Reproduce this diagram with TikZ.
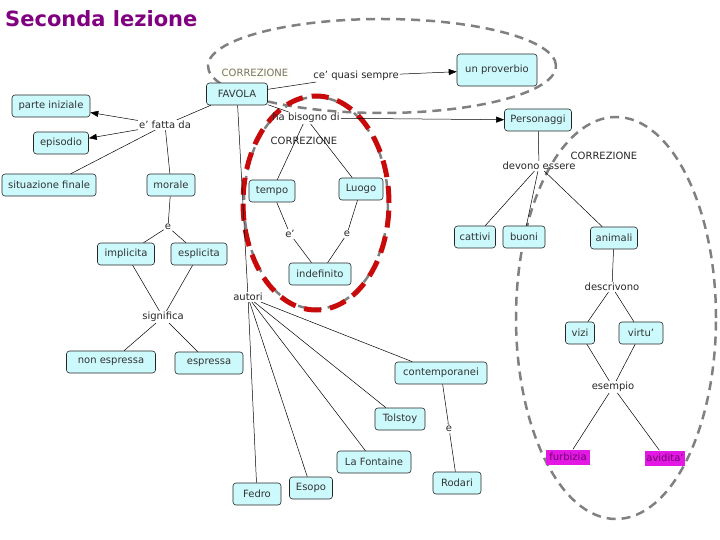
\documentclass[tikz,border=0pt]{standalone}
\usepackage{fontspec}
\setmainfont{DejaVu Sans}
\usetikzlibrary{arrows.meta}
\definecolor{boxfill}{RGB}{204,249,252}
\definecolor{magbox}{RGB}{228,24,228}
\definecolor{ttl}{RGB}{128,0,128}
\definecolor{dgray}{RGB}{128,128,128}
\definecolor{redd}{RGB}{200,10,10}
\begin{document}
\begin{tikzpicture}[x=1pt,y=-1pt,
  box/.style={draw=black!85, fill=boxfill, rounded corners=3pt, font=\fontsize{10}{12}\selectfont, inner xsep=3pt, minimum height=22pt, line width=0.6pt, text=black!80},
  lab/.style={font=\fontsize{10}{12}\selectfont, inner sep=1pt, text=black!85},
  mag/.style={fill=magbox, font=\fontsize{10}{12}\selectfont, text=ttl!85!black, minimum height=15pt, inner xsep=1pt},
  con/.style={draw=black, line width=0.5pt},
  arr/.style={con, -{Triangle[length=8pt,width=6pt]}},
  gdash/.style={draw=dgray, line width=2.5pt, dash pattern=on 9pt off 6pt},
  rdash/.style={draw=redd, line width=5pt, dash pattern=on 17pt off 9pt},
]
\useasboundingbox (0,0) rectangle (720,540);

% annotation ellipses (behind the boxes)
\draw[gdash] (382,66) ellipse [x radius=174pt, y radius=47pt];
\draw[gdash] (616,318) ellipse [x radius=100pt, y radius=201pt];
\draw[gdash] (316,203) ellipse [x radius=72pt, y radius=106pt];
\draw[rdash] (316,203) ellipse [x radius=73pt, y radius=107pt];

% title
\node[anchor=west, font=\bfseries\fontsize{21}{24}\selectfont, text=ttl, inner sep=0pt] (title) at (5,19) {Seconda lezione};

% top
\node[lab, text=black!55, fill=yellow!6] (corr1) at (255,73) {CORREZIONE};
\node[box, minimum width=61pt] (favola) at (237,94) {FAVOLA};
\node[lab] (sempre) at (356,76) {ce' quasi sempre};
\node[box, minimum width=80pt, minimum height=32pt] (prov) at (497,70) {un proverbio};

% left
\node[lab] (fatta) at (165,125) {e' fatta da};
\node[box, minimum width=78pt] (parte) at (51,106) {parte iniziale};
\node[box, minimum width=55pt] (episodio) at (61,143) {episodio};
\node[box, minimum width=94pt] (situaz) at (49,185) {situazione finale};
\node[box, minimum width=48pt] (morale) at (171,185) {morale};
\node[lab] (e1) at (168,227) {e};
\node[box, minimum width=57pt] (impl) at (126,254) {implicita};
\node[box, minimum width=56pt] (espl) at (199,254) {esplicita};
\node[lab] (signif) at (163,317) {significa};
\node[box, minimum width=89pt] (nonespr) at (111,362) {non espressa};
\node[box, minimum width=68pt] (espr) at (209,363) {espressa};

% middle
\node[lab] (bisogno) at (306,118) {ha bisogno di};
\node[lab] (corr2) at (304,141) {CORREZIONE};
\node[box, minimum width=46pt] (tempo) at (272,191) {tempo};
\node[box, minimum width=44pt] (luogo) at (361,189) {Luogo};
\node[lab] (e2) at (290,234) {e'};
\node[lab] (e3) at (347,234) {e};
\node[box, minimum width=62pt] (indef) at (320,274) {indefinito};
\node[lab] (autori) at (248,297) {autori};

% right
\node[box, minimum width=67pt] (pers) at (538,120) {Personaggi};
\node[lab] (devono) at (539,166) {devono essere};
\node[lab] (corr3) at (604,156) {CORREZIONE};
\node[box, minimum width=41pt] (cattivi) at (475,237) {cattivi};
\node[box, minimum width=42pt] (buoni) at (524,237) {buoni};
\node[box, minimum width=47pt] (animali) at (614,238) {animali};
\node[lab] (descr) at (612,287) {descrivono};
\node[box, minimum width=29pt] (vizi) at (580,333) {vizi};
\node[box, minimum width=44pt] (virtu) at (641,333) {virtu'};
\node[lab] (esempio) at (613,387) {esempio};
\node[mag, minimum width=44pt] (furb) at (568,457) {furbizia};
\node[mag, minimum width=40pt] (avid) at (665,458) {avidita'};

% bottom
\node[box, minimum width=92pt] (contemp) at (441,373) {contemporanei};
\node[box, minimum width=50pt] (tolstoy) at (400,419) {Tolstoy};
\node[box, minimum width=74pt] (lafont) at (374,462) {La Fontaine};
\node[box, minimum width=43pt] (esopo) at (311,488) {Esopo};
\node[box, minimum width=48pt] (fedro) at (257,494) {Fedro};
\node[lab] (e4) at (449,428) {è};
\node[box, minimum width=48pt] (rodari) at (457,483) {Rodari};

% connectors
\draw[con] (favola) -- (sempre);
\draw[arr] (sempre) -- (prov);
\draw[con] (favola) -- (fatta);
\draw[arr] (fatta) -- (parte);
\draw[arr] (fatta) -- (episodio);
\draw[con] (fatta) -- (situaz);
\draw[con] (fatta) -- (morale);
\draw[con] (morale) -- (e1);
\draw[con] (e1) -- (impl);
\draw[con] (e1) -- (espl);
\draw[con] (impl) -- (signif);
\draw[con] (espl) -- (signif);
\draw[con] (signif) -- (nonespr);
\draw[con] (signif) -- (espr);
\draw[con] (favola) -- (bisogno);
\draw[arr] (bisogno) -- (pers);
\draw[con] (bisogno) -- (tempo);
\draw[con] (bisogno) -- (luogo);
\draw[con] (tempo) -- (e2);
\draw[con] (e2) -- (indef);
\draw[con] (luogo) -- (e3);
\draw[con] (e3) -- (indef);
\draw[con] (favola) -- (autori);
\draw[con] (pers) -- (devono);
\draw[con] (devono) -- (cattivi);
\draw[con] (devono) -- (buoni);
\draw[con] (devono) -- (animali);
\draw[con] (animali) -- (descr);
\draw[con] (descr) -- (vizi);
\draw[con] (descr) -- (virtu);
\draw[con] (vizi) -- (esempio);
\draw[con] (virtu) -- (esempio);
\draw[con] (esempio) -- (furb);
\draw[con] (esempio) -- (avid);
\draw[con] (autori) -- (contemp);
\draw[con] (autori) -- (tolstoy);
\draw[con] (autori) -- (lafont);
\draw[con] (autori) -- (esopo);
\draw[con] (autori) -- (fedro);
\draw[con] (contemp) -- (e4);
\draw[con] (e4) -- (rodari);
\end{tikzpicture}
\end{document}
